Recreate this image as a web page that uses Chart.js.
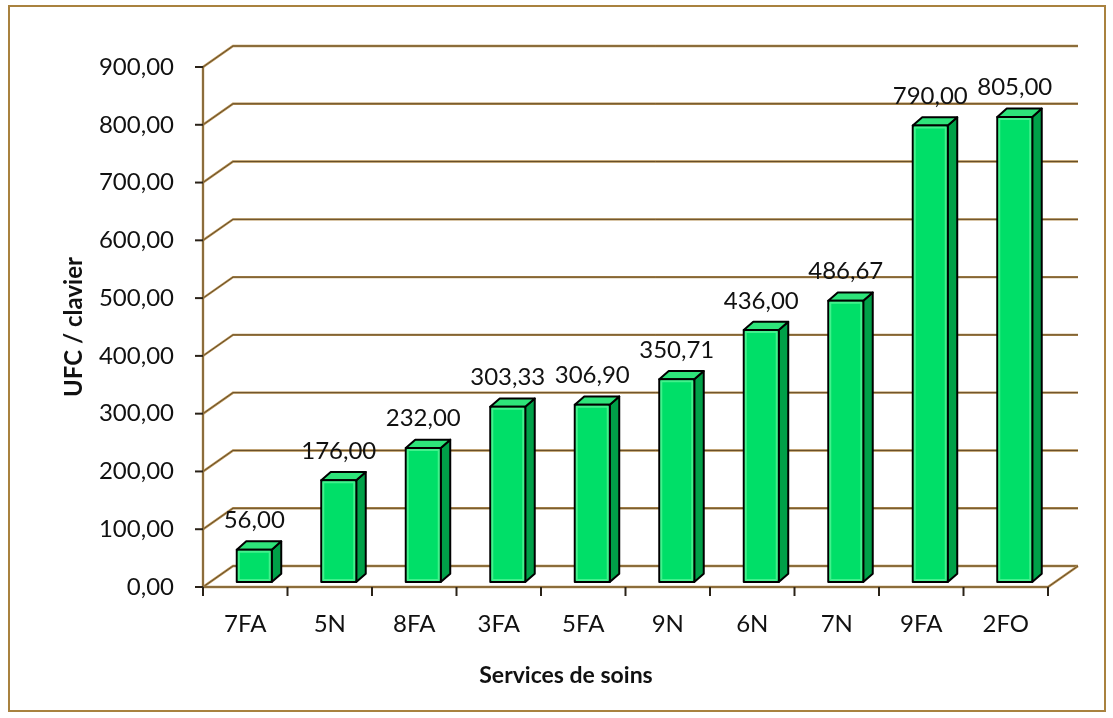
<!DOCTYPE html>
<html>
<head>
<meta charset="utf-8">
<script src="https://cdn.jsdelivr.net/npm/chart.js@4.4.1/dist/chart.umd.min.js"></script>
<style>
  html, body { margin: 0; padding: 0; background: #fff; }
  #wrap { width: 1113px; height: 718px; position: relative; }
</style>
</head>
<body>
<div id="wrap"><canvas id="c" width="1113" height="718"></canvas></div>
<script>
const categories = ['7FA', '5N', '8FA', '3FA', '5FA', '9N', '6N', '7N', '9FA', '2FO'];
const values = [56.00, 176.00, 232.00, 303.33, 306.90, 350.71, 436.00, 486.67, 790.00, 805.00];
const yMin = 0;
const yMax = 900;
const yStep = 100;
const xTitle = 'Services de soins';
const yTitle = 'UFC / clavier';

const fmt = v => v.toFixed(2).replace('.', ',');

// 3d look, in pixels
const wallDepth = { x: 30, y: -21 };
const barShift = { x: 9, y: -5 };
const barDepth = { x: 9.5, y: -8.3 };

const gridGold = '#B48E50';
const gridDark = '#5C4522';

function line(ctx, pts) {
  ctx.beginPath();
  ctx.moveTo(pts[0][0], pts[0][1]);
  for (let i = 1; i < pts.length; i++) ctx.lineTo(pts[i][0], pts[i][1]);
  ctx.stroke();
}
function goldLine(ctx, pts) {
  ctx.strokeStyle = gridGold;
  ctx.lineWidth = 2.4;
  line(ctx, pts);
  ctx.strokeStyle = gridDark;
  ctx.lineWidth = 0.9;
  line(ctx, pts);
}
function poly(ctx, pts, fill) {
  ctx.beginPath();
  ctx.moveTo(pts[0][0], pts[0][1]);
  for (let i = 1; i < pts.length; i++) ctx.lineTo(pts[i][0], pts[i][1]);
  ctx.closePath();
  ctx.fillStyle = fill;
  ctx.fill();
  ctx.stroke();
}

const frame = {
  id: 'frame',
  beforeDraw(chart) {
    const {ctx} = chart;
    ctx.save();
    ctx.fillStyle = '#fff';
    ctx.fillRect(0, 0, chart.width, chart.height);
    ctx.strokeStyle = '#A9823F';
    ctx.lineWidth = 2;
    ctx.strokeRect(9, 6, 1096, 705);
    ctx.restore();
  },
  beforeDatasetsDraw(chart) {
    const {ctx, chartArea: a, scales: {x, y}} = chart;
    ctx.save();
    ctx.lineCap = 'butt';
    const y0 = y.getPixelForValue(yMin);
    // back wall gridlines
    y.ticks.forEach(t => {
      const py = y.getPixelForValue(t.value);
      goldLine(ctx, [[a.left, py], [a.left + wallDepth.x, py + wallDepth.y], [a.right + wallDepth.x, py + wallDepth.y]]);
    });
    // floor front + right edge
    goldLine(ctx, [[a.left, y0], [a.right, y0], [a.right + wallDepth.x, y0 + wallDepth.y]]);
    // front vertical axis
    goldLine(ctx, [[a.left, a.top], [a.left, y0]]);
    // tick marks
    ctx.strokeStyle = '#2a2218';
    ctx.lineWidth = 2;
    y.ticks.forEach(t => {
      const py = y.getPixelForValue(t.value);
      line(ctx, [[a.left - 8, py], [a.left, py]]);
    });
    const step = (a.right - a.left) / categories.length;
    for (let i = 0; i <= categories.length; i++) {
      const px = a.left + i * step;
      line(ctx, [[px, y0], [px, y0 + 9]]);
    }
    // x title, sits left of the plot centre in the original
    ctx.fillStyle = '#111';
    ctx.font = 'bold 23px Lato';
    ctx.textAlign = 'center';
    ctx.textBaseline = 'middle';
    ctx.fillText(xTitle, 566, 676);
    ctx.restore();
  },
  afterDatasetsDraw(chart) {
    const {ctx} = chart;
    const meta = chart.getDatasetMeta(0);
    ctx.save();
    ctx.lineJoin = 'round';
    meta.data.forEach((bar, i) => {
      const w = bar.width;
      const xl = bar.x - w / 2 + barShift.x;
      const xr = bar.x + w / 2 + barShift.x;
      const top = bar.y + barShift.y;
      const base = bar.base + barShift.y;
      ctx.strokeStyle = '#000';
      ctx.lineWidth = 2;
      // side
      poly(ctx, [[xr, top], [xr + barDepth.x, top + barDepth.y], [xr + barDepth.x, base + barDepth.y], [xr, base]], '#00A048');
      // top
      poly(ctx, [[xl, top], [xl + barDepth.x, top + barDepth.y], [xr + barDepth.x, top + barDepth.y], [xr, top]], '#2EE47A');
      // front
      poly(ctx, [[xl, top], [xr, top], [xr, base], [xl, base]], '#00DF68');
      ctx.strokeStyle = 'rgba(120,255,170,0.55)';
      ctx.lineWidth = 2;
      ctx.strokeRect(xl + 2, top + 2, w - 4, base - top - 4);
      // value label
      ctx.fillStyle = '#111';
      ctx.font = '24px Lato';
      ctx.textAlign = 'center';
      ctx.textBaseline = 'middle';
      ctx.fillText(fmt(values[i]), (xl + xr) / 2, top + barDepth.y - 21);
    });
    ctx.restore();
  }
};

new Chart(document.getElementById('c'), {
  type: 'bar',
  data: {
    labels: categories,
    datasets: [{
      label: yTitle,
      data: values,
      backgroundColor: 'transparent',
      borderWidth: 0,
      barPercentage: 0.414,
      categoryPercentage: 1
    }]
  },
  options: {
    responsive: false,
    animation: false,
    layout: { padding: { left: 60, right: 65, top: 67, bottom: 0 } },
    plugins: { legend: { display: false }, tooltip: { enabled: false } },
    scales: {
      x: {
        grid: { display: false },
        border: { display: false },
        ticks: { color: '#111', font: { family: 'Lato', size: 24 }, padding: 15, maxRotation: 0 },
        afterFit(s) { s.height = 131; }
      },
      y: {
        min: yMin,
        max: yMax,
        grid: { display: false },
        border: { display: false },
        ticks: { stepSize: yStep, color: '#111', font: { family: 'Lato', size: 24 }, padding: 21, callback: v => fmt(v) },
        title: { display: true, text: yTitle, color: '#111', font: { family: 'Lato', size: 24, weight: 'bold' }, padding: 0 },
        afterFit(s) { s.width = 143; }
      }
    }
  },
  plugins: [frame]
});
</script>
</body>
</html>
